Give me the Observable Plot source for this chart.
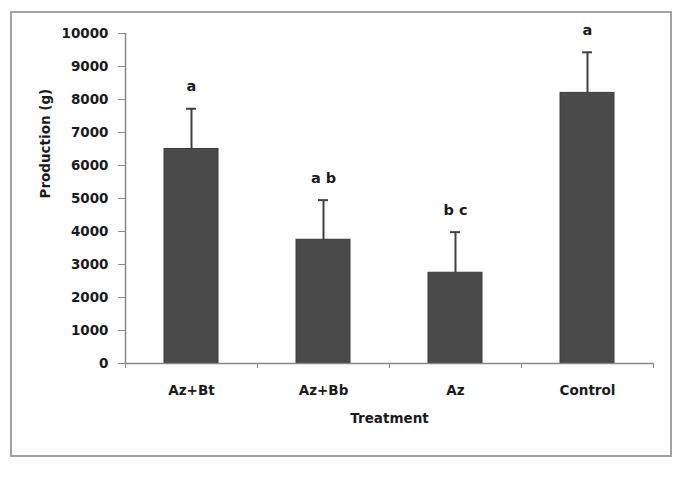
<!DOCTYPE html>
<html>
<head>
<meta charset="utf-8">
<script src="https://cdn.jsdelivr.net/npm/d3@7"></script>
<script src="https://cdn.jsdelivr.net/npm/@observablehq/plot@0.6"></script>
<style>
  html, body { margin: 0; padding: 0; background: #fff; }
  #wrap { position: relative; width: 674px; height: 478px; }
  #border { position: absolute; left: 10px; top: 11px; width: 658px; height: 442px; border: 2px solid #a3a3a3; box-sizing: content-box; }
  #chart { position: absolute; left: 0; top: 0; }
</style>
</head>
<body>
<div id="wrap"><div id="border"></div><div id="chart"></div></div>
<script>
const categories = ["Az+Bt", "Az+Bb", "Az", "Control"];
const means = [6500, 3750, 2750, 8200];
const errors = [1220, 1200, 1230, 1230];
const letters = ["a", "a b", "b c", "a"];
const yTicks = [0, 1000, 2000, 3000, 4000, 5000, 6000, 7000, 8000, 9000, 10000];
const xTitle = "Treatment";
const yTitle = "Production (g)";

const data = categories.map((c, i) => ({i, cat: c, mean: means[i], err: errors[i], letter: letters[i]}));

const chart = Plot.plot({
  width: 674,
  height: 478,
  marginLeft: 125,
  marginRight: 21,
  marginTop: 33,
  marginBottom: 115,
  style: {fontFamily: "DejaVu Sans", fontWeight: "bold", fontSize: "13.5px", color: "#1a1a1a", background: "transparent"},
  x: {type: "linear", domain: [0, categories.length], axis: null},
  y: {domain: [0, 10000], axis: null},
  marks: [
    Plot.rectY(data, {x1: "i", x2: d => d.i + 1, y: "mean", insetLeft: 39, insetRight: 39, fill: "#4a4a4a", stroke: "#3c3c3c", strokeWidth: 1}),
    Plot.ruleX(data, {x: d => d.i + 0.5, y1: "mean", y2: d => d.mean + d.err, stroke: "#404040", strokeWidth: 2}),
    Plot.ruleY(data, {y: d => d.mean + d.err, x1: "i", x2: d => d.i + 1, insetLeft: 61, insetRight: 61, stroke: "#404040", strokeWidth: 2}),
    Plot.text(data, {x: d => d.i + 0.5, y: d => d.mean + d.err, text: "letter", dy: -22, fontSize: 14.5, fontWeight: "bold", fill: "#1a1a1a"}),
    Plot.axisY({ticks: yTicks, tickSize: 7, tickPadding: 10, tickFormat: d3.format("d"), label: null, stroke: "#888"}),
    Plot.axisX({ticks: d3.range(categories.length + 1), tickSize: 5, tickFormat: () => "", label: null, stroke: "#888"}),
    Plot.axisX({ticks: categories.map((c, i) => i + 0.5), tickSize: 0, tickPadding: 22, tickFormat: v => categories[Math.floor(v)], label: null}),
    Plot.ruleY([0], {stroke: "#888", strokeWidth: 1.5}),
    Plot.ruleX([0], {stroke: "#888", strokeWidth: 1.5}),
    Plot.text([xTitle], {frameAnchor: "bottom", dy: 59, fontWeight: "bold", fontSize: 13.5, fill: "#1a1a1a"}),
    Plot.text([yTitle], {frameAnchor: "left", dx: -80, rotate: -90, fontWeight: "bold", fontSize: 13.5, fill: "#1a1a1a"})
  ]
});
document.getElementById("chart").append(chart);
</script>
</body>
</html>
